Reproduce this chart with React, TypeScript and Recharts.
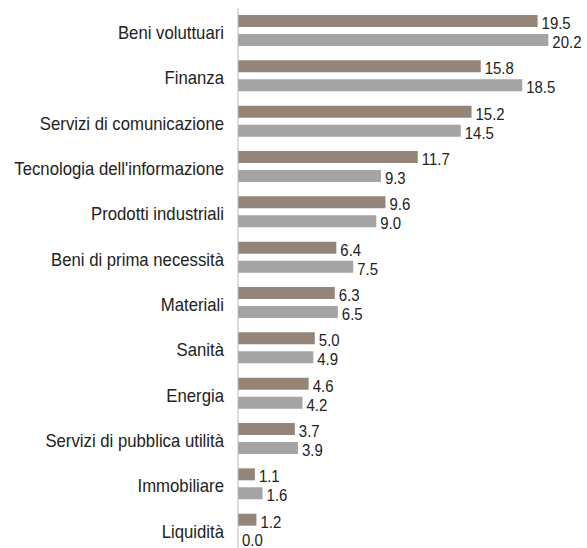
import React from "react";
import { BarChart, Bar, XAxis, YAxis, LabelList, Cell } from "recharts";

const categories = [
  "Beni voluttuari",
  "Finanza",
  "Servizi di comunicazione",
  "Tecnologia dell'informazione",
  "Prodotti industriali",
  "Beni di prima necessità",
  "Materiali",
  "Sanità",
  "Energia",
  "Servizi di pubblica utilità",
  "Immobiliare",
  "Liquidità",
];
const seriesA = [19.5, 15.8, 15.2, 11.7, 9.6, 6.4, 6.3, 5.0, 4.6, 3.7, 1.1, 1.2];
const seriesB = [20.2, 18.5, 14.5, 9.3, 9.0, 7.5, 6.5, 4.9, 4.2, 3.9, 1.6, 0.0];

const data = categories.map((name, i) => ({ name, a: seriesA[i], b: seriesB[i] }));

const FONT = "'Liberation Sans', Arial, sans-serif";
const COLOR_A = "#958579";
const COLOR_B = "#a4a4a4";

const CategoryTick = (props: any) => {
  const { x, y, payload } = props;
  return (
    <g transform={`translate(${x},${y + 2})`}>
      <text
        transform="scale(0.93,1)"
        textAnchor="end"
        dy="0.355em"
        fill="#222222"
        fontSize={18}
        fontFamily={FONT}
      >
        {payload.value}
      </text>
    </g>
  );
};

const ValueLabel = (props: any) => {
  const { x, y, width, height, value } = props;
  const isZero = Number(value) === 0;
  const tx = Number(x) + (isZero ? 0 : Number(width || 0)) + 4;
  const ty = Number(y) + Number(height) / 2 + (isZero ? 1 : 2);
  return (
    <g transform={`translate(${tx},${ty})`}>
      <text
        transform="scale(0.88,1)"
        textAnchor="start"
        dy="0.355em"
        fill="#222222"
        fontSize={17}
        fontFamily={FONT}
      >
        {Number(value).toFixed(1)}
      </text>
    </g>
  );
};

export default function App() {
  return (
    <div style={{ width: 587, height: 548, overflow: "hidden", background: "#ffffff" }}>
      <style>{`html, body { margin: 0; padding: 0; overflow: hidden; }`}</style>
      <BarChart
        width={587}
        height={552}
        data={data}
        layout="vertical"
        margin={{ top: 8, right: 11, bottom: 0, left: 0 }}
        barGap={7}
      >
        <XAxis type="number" domain={[0, 22]} hide />
        <YAxis
          type="category"
          dataKey="name"
          width={238}
          axisLine={{ stroke: "#bbbbbb" }}
          tickLine={false}
          tickSize={6}
          tickMargin={8}
          interval={0}
          tick={<CategoryTick />}
        />
        <Bar dataKey="a" fill={COLOR_A} barSize={12} isAnimationActive={false}>
          <LabelList dataKey="a" content={<ValueLabel />} />
        </Bar>
        <Bar dataKey="b" fill={COLOR_B} barSize={12} minPointSize={1} isAnimationActive={false}>
          {seriesB.map((v, i) => (
            <Cell key={i} fill={v === 0 ? "transparent" : COLOR_B} />
          ))}
          <LabelList dataKey="b" content={<ValueLabel />} />
        </Bar>
      </BarChart>
    </div>
  );
}
